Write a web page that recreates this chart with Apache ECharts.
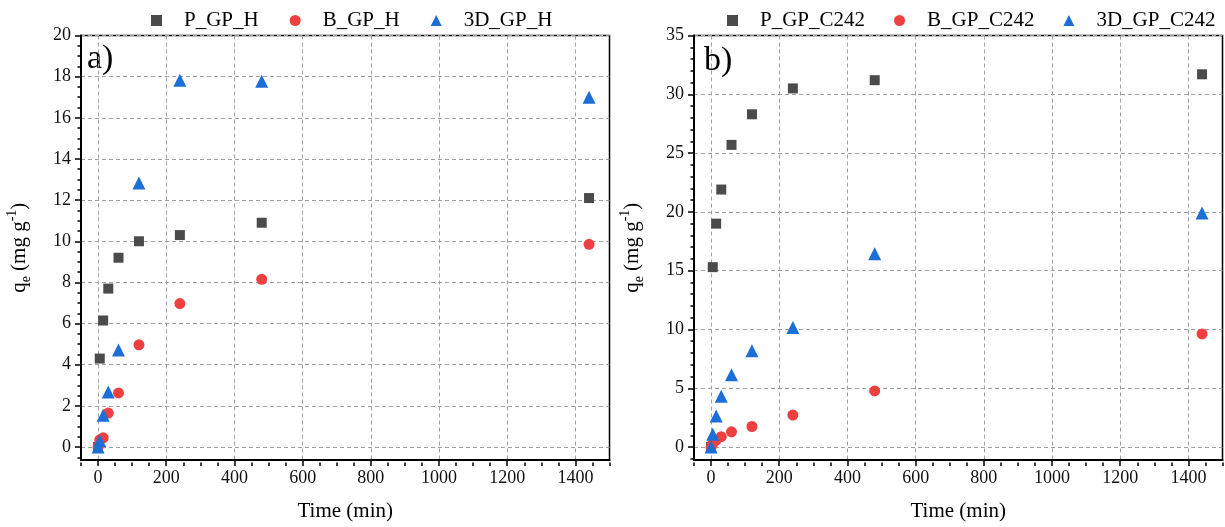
<!DOCTYPE html>
<html>
<head>
<meta charset="utf-8">
<script src="https://cdn.jsdelivr.net/npm/echarts@6/dist/echarts.min.js"></script>
<style>html,body{margin:0;padding:0;background:#fff}#c{width:1225px;height:527px}</style>
</head>
<body>
<div id="c"></div>
<script>
// ---- data ----
const times = [0, 5, 15, 30, 60, 120, 240, 480, 1440];
// panel a
const P_GP_H  = [0, 4.3, 6.15, 7.7, 9.2, 10.0, 10.3, 10.9, 12.1];
const B_GP_H  = [0, 0.35, 0.45, 1.65, 2.63, 4.97, 6.97, 8.15, 9.85];
const D3_GP_H = [0, 0.3, 1.55, 2.68, 4.72, 12.83, 17.82, 17.78, 17.0];
// panel b
const P_GP_C242  = [0, 15.3, 19.0, 21.9, 25.7, 28.3, 30.5, 31.2, 31.7];
const B_GP_C242  = [0, 0.3, 0.6, 0.88, 1.3, 1.75, 2.72, 4.77, 9.62];
const D3_GP_C242 = [0, 1.08, 2.64, 4.33, 6.16, 8.19, 10.17, 16.45, 19.9];
// tick labels
const xTicks  = [0, 200, 400, 600, 800, 1000, 1200, 1400];
const yTicksA = [0, 2, 4, 6, 8, 10, 12, 14, 16, 18, 20];
const yTicksB = [0, 5, 10, 15, 20, 25, 30, 35];
const namesA = ['P_GP_H', 'B_GP_H', '3D_GP_H'];
const namesB = ['P_GP_C242', 'B_GP_C242', '3D_GP_C242'];

function range(a, b, s) { const r = []; for (let v = a; v <= b + 1e-9; v += s) r.push(+v.toFixed(4)); return r; }
const xMinor  = range(-50, 1500, 50);
const yMinorA = range(-0.5, 20, 0.5);
const yMinorB = range(-1, 35, 1);

const FONT = '"Liberation Serif", "Times New Roman", serif';
const colors = ['#4b4b4b', '#ee4040', '#1c6fd6'];
const symbols = ['rect', 'circle', 'triangle'];
const sizes = [10, 11, 13];
const GW = 528.5, GH = 427;

function pair(xs, ys) { return xs.map((x, i) => [x, ys[i]]); }
const fmt = v => String(v);

function mainX(grid) {
  return {
    type: 'value', gridIndex: grid, min: -50, max: 1500, position: 'bottom',
    name: 'Time (min)', nameLocation: 'middle', nameGap: 41,
    nameTextStyle: { fontFamily: FONT, fontSize: 21, color: '#000' },
    axisLine: { show: true, onZero: false, lineStyle: { color: '#000', width: 2 } },
    axisTick: { show: true, inside: false, length: 6, customValues: xTicks, lineStyle: { color: '#000', width: 1.5 } },
    axisLabel: { show: true, customValues: xTicks, formatter: fmt, margin: 9, fontFamily: FONT, fontSize: 18, color: '#111' },
    splitLine: { show: true, lineStyle: { color: '#a0a0a0', type: [4, 3], width: 1 } }
  };
}
function minorX(grid) {
  // sits on the top slot, shifted down onto the bottom axis line
  return {
    type: 'value', gridIndex: grid, min: -50, max: 1500, position: 'top', offset: -GH,
    axisLine: { show: false, onZero: false },
    axisTick: { show: true, inside: true, length: 3.5, customValues: xMinor, lineStyle: { color: '#000', width: 1.5 } },
    axisLabel: { show: false }, splitLine: { show: false }
  };
}
function mainY(grid, min, max, ticks) {
  return {
    type: 'value', gridIndex: grid, min: min, max: max, position: 'left',
    name: '{q|q}{e|e}{q| (mg g}{s|-1}{q|)}', nameLocation: 'middle', nameGap: 48,
    nameTextStyle: {
      fontFamily: FONT, fontSize: 21, color: '#000',
      rich: {
        q: { fontFamily: FONT, fontSize: 21, color: '#000', lineHeight: 28, verticalAlign: 'middle' },
        e: { fontFamily: FONT, fontSize: 14, color: '#000', lineHeight: 28, verticalAlign: 'bottom' },
        s: { fontFamily: FONT, fontSize: 14, color: '#000', lineHeight: 28, verticalAlign: 'top' }
      }
    },
    axisLine: { show: true, onZero: false, lineStyle: { color: '#000', width: 2 } },
    axisTick: { show: true, length: 6, customValues: ticks, lineStyle: { color: '#000', width: 1.5 } },
    axisLabel: { show: true, customValues: ticks, formatter: fmt, margin: 10, fontFamily: FONT, fontSize: 18, color: '#111' },
    splitLine: { show: true, lineStyle: { color: '#a0a0a0', type: [4, 3], width: 1 } }
  };
}
function minorY(grid, min, max, ticks) {
  // sits on the right slot, shifted left onto the left axis line
  return {
    type: 'value', gridIndex: grid, min: min, max: max, position: 'right', offset: -GW,
    axisLine: { show: false, onZero: false },
    axisTick: { show: true, inside: true, length: 3.5, customValues: ticks, lineStyle: { color: '#000', width: 1.5 } },
    axisLabel: { show: false }, splitLine: { show: false }
  };
}
function series(names, arrays, xi, yi) {
  return names.map((n, k) => ({
    type: 'scatter', name: n, xAxisIndex: xi, yAxisIndex: yi,
    symbol: symbols[k], symbolSize: sizes[k],
    itemStyle: { color: colors[k], opacity: 1 },
    data: pair(times, arrays[k]), z: 3 + k
  }));
}
function legend(names, left, gap) {
  return {
    data: names.map((n, k) => ({ name: n, icon: symbols[k] })),
    left: left, top: 10, width: 560, padding: 0, orient: 'horizontal',
    itemWidth: 11, itemHeight: 11, itemGap: gap,
    textStyle: { fontFamily: FONT, fontSize: 21, color: '#000', padding: [0, 0, 0, 17] }
  };
}

const chart = echarts.init(document.getElementById('c'), null, { renderer: 'canvas' });
chart.setOption({
  animation: false,
  backgroundColor: '#fff',
  grid: [
    { left: 81, top: 35.5, width: GW, height: GH, show: true, borderColor: '#000', borderWidth: 1.5, backgroundColor: 'transparent' },
    { left: 694, top: 35.5, width: GW, height: GH, show: true, borderColor: '#000', borderWidth: 1.5, backgroundColor: 'transparent' }
  ],
  legend: [legend(namesA, 151, 31), legend(namesB, 727, 29)],
  xAxis: [mainX(0), minorX(0), mainX(1), minorX(1)],
  yAxis: [mainY(0, -0.63, 20, yTicksA), minorY(0, -0.63, 20, yMinorA), mainY(1, -1.1, 35, yTicksB), minorY(1, -1.1, 35, yMinorB)],
  graphic: [
    { type: 'text', left: 87, top: 42, style: { text: 'a)', font: '34px ' + FONT, fill: '#000' } },
    { type: 'text', left: 704, top: 44, style: { text: 'b)', font: '34px ' + FONT, fill: '#000' } }
  ],
  series: [].concat(
    series(namesA, [P_GP_H, B_GP_H, D3_GP_H], 0, 0),
    series(namesB, [P_GP_C242, B_GP_C242, D3_GP_C242], 2, 2)
  )
});
</script>
</body>
</html>
